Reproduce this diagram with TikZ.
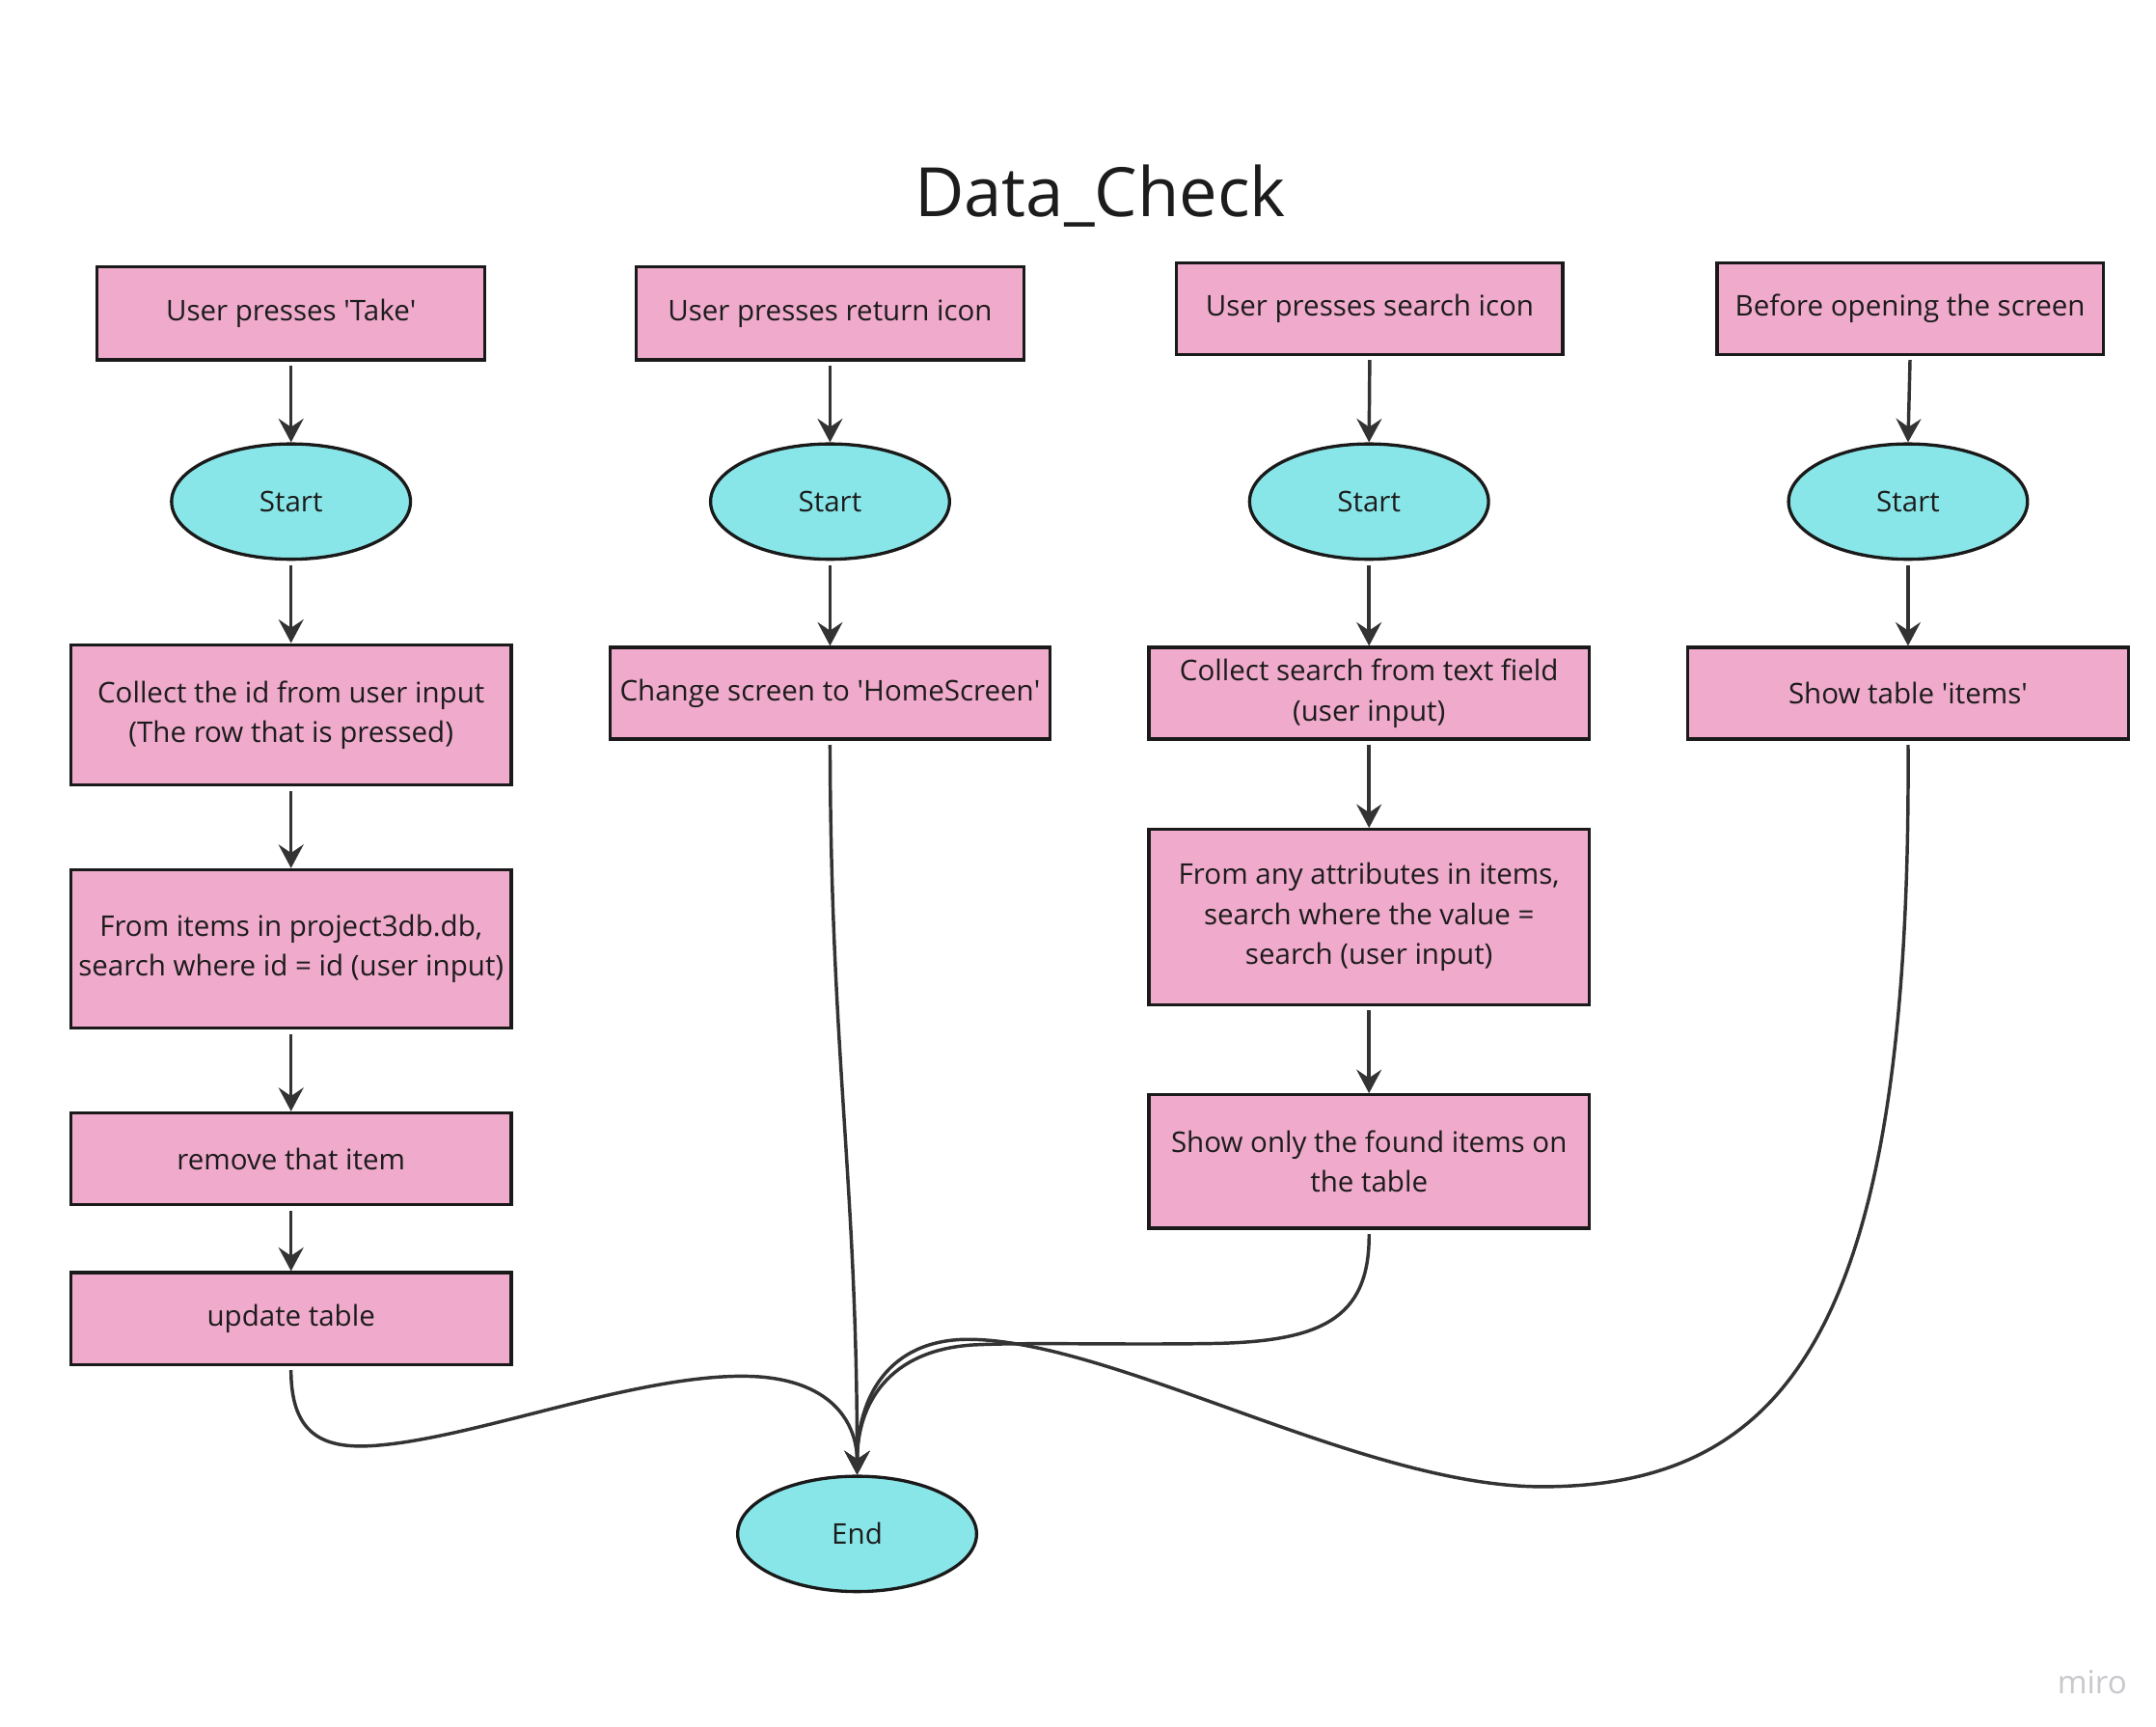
\documentclass[tikz,border=0pt]{standalone}
\usepackage{fontspec}
\setmainfont{Open Sans}
\usetikzlibrary{shapes.geometric,arrows.meta}
\definecolor{pinkfill}{RGB}{240,170,203}
\definecolor{cyanfill}{RGB}{137,230,232}
\definecolor{edge}{RGB}{26,26,26}
\definecolor{linec}{RGB}{51,51,51}
\definecolor{txt}{RGB}{28,28,28}
\definecolor{mirogray}{RGB}{200,200,205}
\newcommand{\sq}{\textquotesingle}
\tikzset{
  box/.style={rectangle,draw=edge,fill=pinkfill,line width=2.3pt,text=txt,
    align=center,inner sep=2pt,font=\fontsize{20.5}{28.7}\selectfont},
  oval/.style={ellipse,draw=edge,fill=cyanfill,line width=2.3pt,text=txt,
    minimum width=172pt,minimum height=83pt,inner sep=0pt,font=\fontsize{20.5}{24}\selectfont},
  flow/.style={draw=linec,line width=2.4pt,-{Stealth[length=17pt,width=18pt,inset=6pt]},shorten <=3pt},
  curve/.style={draw=linec,line width=2.4pt,-{Stealth[length=17pt,width=18pt,inset=6pt]},shorten <=3pt}
}
\begin{document}
\begin{tikzpicture}[x=1pt,y=-1pt]
\useasboundingbox[fill=white] (0,0) rectangle (1552,1242.3);
\node[text=txt,font=\fontsize{49}{55}\selectfont] (title) at (792,141) {Data\_Check};
% column 1
\node[box,minimum width=279pt,minimum height=67pt] (a1) at (209.5,225.5) {User presses \sq Take\sq};
\node[oval] (a2) at (209.5,361) {Start};
\node[box,minimum width=317pt,minimum height=101pt] (a3) at (209.5,514.5) {Collect the id from user input\\(The row that is pressed)};
\node[box,minimum width=317pt,minimum height=114pt] (a4) at (209.5,683) {From items in project3db.db,\\search where id = id (user input)};
\node[box,minimum width=317pt,minimum height=66pt] (a5) at (209.5,834) {remove that item};
\node[box,minimum width=317pt,minimum height=66pt] (a6) at (209.5,949) {update table};
% column 2
\node[box,minimum width=279pt,minimum height=67pt] (b1) at (597.5,225.5) {User presses return icon};
\node[oval] (b2) at (597.5,361) {Start};
\node[box,minimum width=317pt,minimum height=66pt] (b3) at (597.5,499) {Change screen to \sq HomeScreen\sq};
% column 3
\node[box,minimum width=278pt,minimum height=66pt] (c1) at (986,222) {User presses search icon};
\node[oval] (c2) at (985.5,361) {Start};
\node[box,minimum width=317pt,minimum height=66pt] (c3) at (985.5,499) {Collect search from text field\\(user input)};
\node[box,minimum width=317pt,minimum height=126pt] (c4) at (985.5,660) {From any attributes in items,\\search where the value =\\search (user input)};
\node[box,minimum width=317pt,minimum height=96pt] (c5) at (985.5,836) {Show only the found items on\\the table};
% column 4
\node[box,minimum width=278pt,minimum height=66pt] (d1) at (1375,222) {Before opening the screen};
\node[oval] (d2) at (1373.5,361) {Start};
\node[box,minimum width=317pt,minimum height=66pt] (d3) at (1373.5,499) {Show table \sq items\sq};
% end
\node[oval] (e) at (617,1104) {End};
% watermark
\node[text=mirogray,font=\fontsize{23}{26}\selectfont] (miro) at (1506,1211) {miro};
% straight arrows
\draw[flow] (a1.south) -- (a2.north);
\draw[flow] (a2.south) -- (a3.north);
\draw[flow] (a3.south) -- (a4.north);
\draw[flow] (a4.south) -- (a5.north);
\draw[flow] (a5.south) -- (a6.north);
\draw[flow] (b1.south) -- (b2.north);
\draw[flow] (b2.south) -- (b3.north);
\draw[flow] (c1.south) -- (c2.north);
\draw[flow] (c2.south) -- (c3.north);
\draw[flow] (c3.south) -- (c4.north);
\draw[flow] (c4.south) -- (c5.north);
\draw[flow] (d1.south) -- (d2.north);
\draw[flow] (d2.south) -- (d3.north);
% curves into End
\draw[curve] (a6.south) .. controls (209.5,1035) and (235,1044) .. (275,1040)
  .. controls (350,1033) and (470,985) .. (548,991)
  .. controls (605,996) and (617,1030) .. (e.north);
\draw[curve] (b3.south) .. controls (598,760) and (617,850) .. (e.north);
\draw[curve] (c5.south) .. controls (986,950) and (950,966) .. (870,967)
  .. controls (800,968) and (740,966) .. (700,968)
  .. controls (640,972) and (617,1010) .. (e.north);
\draw[curve] (d3.south) .. controls (1376,950) and (1290,1070) .. (1110,1070)
  .. controls (980,1070) and (800,963) .. (695,964)
  .. controls (640,965) and (617,1005) .. (e.north);
\end{tikzpicture}
\end{document}
